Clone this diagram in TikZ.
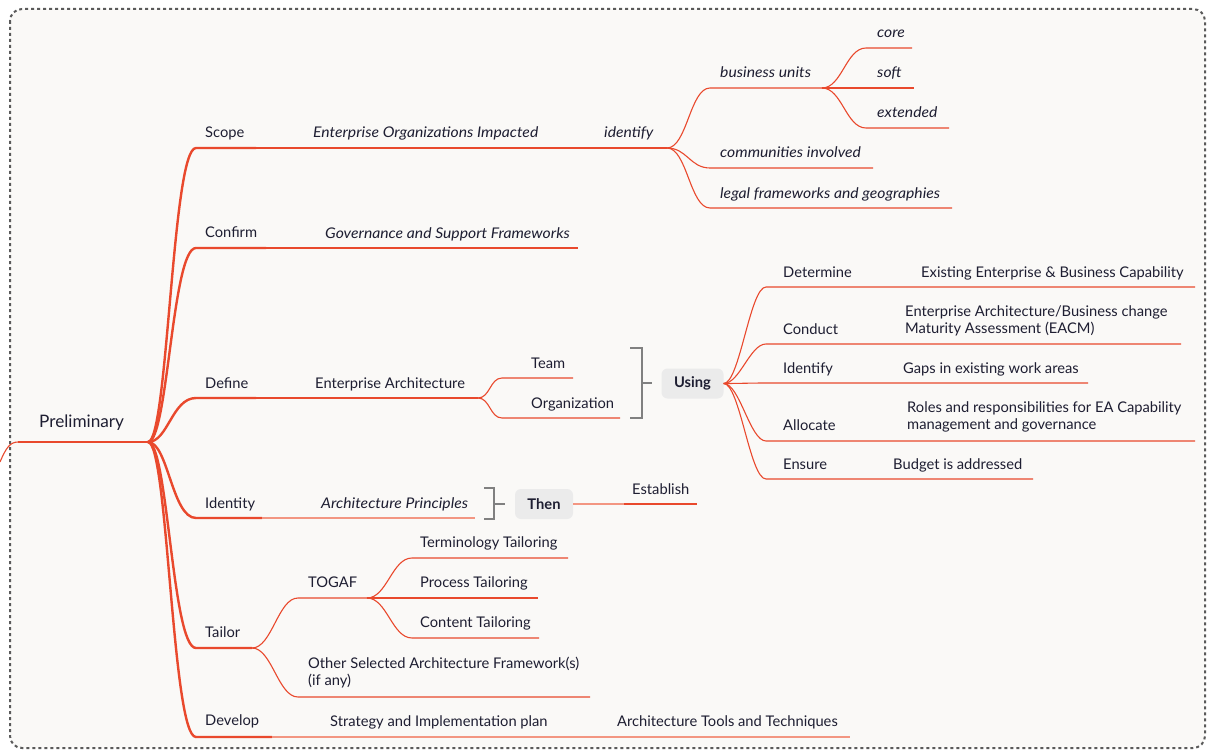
\documentclass[tikz,border=0pt]{standalone}
\usepackage{fontspec}
\setmainfont{Lato}[ItalicFeatures={FakeStretch=1.07}]
\definecolor{brred}{RGB}{233,73,45}
\definecolor{brlight}{RGB}{243,150,130}
\definecolor{txt}{RGB}{30,30,50}
\definecolor{brgray}{RGB}{128,128,128}
\definecolor{boxgray}{RGB}{235,235,235}
\definecolor{bgc}{RGB}{250,249,247}
\definecolor{frame}{RGB}{90,90,90}
\tikzset{
  lbl/.style={anchor=base west, inner sep=0pt, text=txt, font=\fontsize{14.7}{17.5}\selectfont},
  ilbl/.style={lbl, font=\fontsize{14.7}{17.5}\selectfont\itshape},
  rootlbl/.style={anchor=base west, inner sep=0pt, text=txt, font=\fontsize{17.2}{20}\selectfont},
  mainline/.style={draw=brred, line width=2.4pt},
  subline/.style={draw=brred, line width=1.1pt},
  lightline/.style={draw=brlight, line width=1.1pt},
  bracketline/.style={draw=brgray, line width=2pt},
  tagbox/.style={fill=boxgray, rounded corners=6pt, inner sep=0pt, text=txt, font=\fontsize{14.7}{17}\selectfont\bfseries},
  curvy/.style={to path={.. controls +(#1,0) and +(-#1,0) .. (\tikztotarget)}},
  curvy/.default=20
}
\begin{document}
\begin{tikzpicture}[x=1pt,y=-1pt]
\useasboundingbox (0,0) rectangle (1212,754);
\fill[white] (0,0) rectangle (1212,754);
\draw[frame, fill=bgc, line width=2pt, dash pattern=on 3pt off 3pt, rounded corners=12pt] (10,9) rectangle (1205,748);

% ---------- coordinates ----------
\coordinate (offL) at (0,462);
\coordinate (rootS) at (18,442);
\coordinate (rootE) at (148,442);

\coordinate (scopeS) at (196,148);
\coordinate (scopeT) at (256,148);
\coordinate (scopeE) at (667,148);
\coordinate (buS) at (710,88);   \coordinate (buE) at (822,88);
\coordinate (coreS) at (866,48); \coordinate (coreE) at (912,48);
\coordinate (softS) at (866,88); \coordinate (softE) at (914,88);
\coordinate (extS) at (866,128); \coordinate (extE) at (949,128);
\coordinate (commS) at (710,168); \coordinate (commE) at (873,168);
\coordinate (legalS) at (710,208); \coordinate (legalE) at (952,208);

\coordinate (confS) at (196,248);
\coordinate (confT) at (266,248);
\coordinate (confE) at (578,248);

\coordinate (defS) at (196,398);
\coordinate (defT) at (256,398);
\coordinate (defE) at (478,398);
\coordinate (teamS) at (502,378); \coordinate (teamE) at (573,378);
\coordinate (orgS) at (502,418);  \coordinate (orgE) at (620,418);

\coordinate (detS) at (766,287); \coordinate (detE) at (1195,287);
\coordinate (conS) at (766,344); \coordinate (conE) at (1181,344);
\coordinate (ideS) at (766,383); \coordinate (ideE) at (1088,383);
\coordinate (allS) at (766,441); \coordinate (allE) at (1195,441);
\coordinate (ensS) at (766,479); \coordinate (ensE) at (1033,479);

\coordinate (idtS) at (196,518);
\coordinate (idtT) at (262,518);
\coordinate (idtE) at (475,518);
\coordinate (estS) at (624,504); \coordinate (estE) at (697,504);

\coordinate (taiS) at (196,648);
\coordinate (taiE) at (252,648);
\coordinate (togS) at (298,598); \coordinate (togE) at (367,598);
\coordinate (ttS) at (412,558); \coordinate (ttE) at (568,558);
\coordinate (ptS) at (412,598); \coordinate (ptE) at (538,598);
\coordinate (ctS) at (412,638); \coordinate (ctE) at (539,638);
\coordinate (othS) at (298,697); \coordinate (othE) at (590,697);

\coordinate (devS) at (196,737);
\coordinate (devT) at (272,737);
\coordinate (devE) at (850,737);

% ---------- connectors ----------
\draw[subline] (offL) .. controls +(6,-14) and +(-8,0) .. (rootS);
\draw[mainline] (rootS) -- (rootE);

\draw[mainline] (rootE) .. controls +(20,0) and +(-24,0) .. (scopeS) -- (scopeT);
\draw[mainline] (rootE) .. controls +(20,0) and +(-24,0) .. (confS) -- (confT);
\draw[mainline] (rootE) .. controls +(20,0) and +(-24,0) .. (defS) -- (defT);
\draw[mainline] (rootE) .. controls +(20,0) and +(-24,0) .. (idtS) -- (idtT);
\draw[mainline] (rootE) .. controls +(20,0) and +(-24,0) .. (taiS) -- (taiE);
\draw[mainline] (rootE) .. controls +(20,0) and +(-24,0) .. (devS) -- (devT);

\draw[subline] (scopeT) -- (scopeE);
\draw[subline] (scopeE) to[curvy] (buS) -- (buE);
\draw[subline] (buE) to[curvy] (coreS) -- (coreE);
\draw[subline] (buE) to[curvy] (softS) -- (softE);
\draw[subline] (buE) to[curvy] (extS) -- (extE);
\draw[subline] (scopeE) to[curvy] (commS) -- (commE);
\draw[subline] (scopeE) to[curvy] (legalS) -- (legalE);

\draw[subline] (confT) -- (confE);

\draw[subline] (defT) -- (defE);
\draw[subline] (defE) to[curvy=12] (teamS) -- (teamE);
\draw[subline] (defE) to[curvy=12] (orgS) -- (orgE);

\draw[lightline] (idtT) -- (idtE);

\draw[subline] (taiE) to[curvy] (togS) -- (togE);
\draw[subline] (togE) to[curvy] (ttS) -- (ttE);
\draw[subline] (togE) to[curvy] (ptS) -- (ptE);
\draw[subline] (togE) to[curvy] (ctS) -- (ctE);
\draw[subline] (taiE) to[curvy] (othS) -- (othE);

\draw[lightline] (devT) -- (devE);

% ---------- brackets and tags ----------
\draw[bracketline] (630,348) -- (642,348) -- (642,418) -- (630,418);
\draw[bracketline] (642,383) -- (652,383);
\node[tagbox, minimum width=62pt, minimum height=30pt] (using) at (692.5,383.5) {Using};

\draw[bracketline] (484,488) -- (494,488) -- (494,519) -- (484,519);
\draw[bracketline] (494,504) -- (505,504);
\node[tagbox, minimum width=58pt, minimum height=30pt] (then) at (544,504) {Then};

\draw[subline] (using.east) to[curvy=16] (detS) -- (detE);
\draw[subline] (using.east) to[curvy=16] (conS) -- (conE);
\draw[subline] (using.east) to[curvy=16] (ideS) -- (ideE);
\draw[subline] (using.east) to[curvy=16] (allS) -- (allE);
\draw[subline] (using.east) to[curvy=16] (ensS) -- (ensE);

\draw[lightline] (then.east) -- (estS);
\draw[subline] (estS) -- (estE);

% ---------- labels ----------
\node[rootlbl] (prelim) at (39,427) {Preliminary};

\node[lbl] (scope) at (205,138) {Scope};
\node[ilbl] (eoi) at (313,138) {Enterprise Organizations Impacted};
\node[ilbl] (identify) at (604,138) {identify};
\node[ilbl] (bu) at (720,78) {business units};
\node[ilbl] (core) at (877,38) {core};
\node[ilbl] (soft) at (877,78) {soft};
\node[ilbl] (ext) at (877,118) {extended};
\node[ilbl] (comm) at (720,158) {communities involved};
\node[ilbl] (legal) at (720,198) {legal frameworks and geographies};

\node[lbl] (confirm) at (205,237) {Confirm};
\node[ilbl] (gsf) at (325,238) {Governance and Support Frameworks};

\node[lbl] (define) at (205,388) {Define};
\node[lbl] (ea) at (315,388) {Enterprise Architecture};
\node[lbl] (team) at (531,368) {Team};
\node[lbl] (org) at (531,408) {Organization};

\node[lbl] (determine) at (783,277) {Determine};
\node[lbl] (eebc) at (921,277) {Existing Enterprise \& Business Capability};
\node[lbl] (conduct) at (783,334) {Conduct};
\node[lbl] (eacm) at (905,316) {\vtop{\hbox{Enterprise Architecture/Business change}\hbox{Maturity Assessment (EACM)}}};
\node[lbl] (identify2) at (783,373) {Identify};
\node[lbl] (gaps) at (903,373) {Gaps in existing work areas};
\node[lbl] (allocate) at (783,430) {Allocate};
\node[lbl] (roles) at (907,412) {\vtop{\hbox{Roles and responsibilities for EA Capability}\hbox{management and governance}}};
\node[lbl] (ensure) at (783,469) {Ensure};
\node[lbl] (budget) at (893,469) {Budget is addressed};

\node[lbl] (identity) at (205,508) {Identity};
\node[ilbl] (ap) at (321,508) {Architecture Principles};
\node[lbl] (establish) at (632,494) {Establish};

\node[lbl] (tailor) at (205,637) {Tailor};
\node[lbl] (togaf) at (308,587) {TOGAF};
\node[lbl] (tt) at (420,547) {Terminology Tailoring};
\node[lbl] (pt) at (420,587) {Process Tailoring};
\node[lbl] (ct) at (420,627) {Content Tailoring};
\node[lbl] (other) at (308,668) {\vtop{\hbox{Other Selected Architecture Framework(s)}\hbox{(if any)}}};

\node[lbl] (develop) at (205,725) {Develop};
\node[lbl] (sip) at (330,726) {Strategy and Implementation plan};
\node[lbl] (att) at (617,726) {Architecture Tools and Techniques};
\end{tikzpicture}
\end{document}
